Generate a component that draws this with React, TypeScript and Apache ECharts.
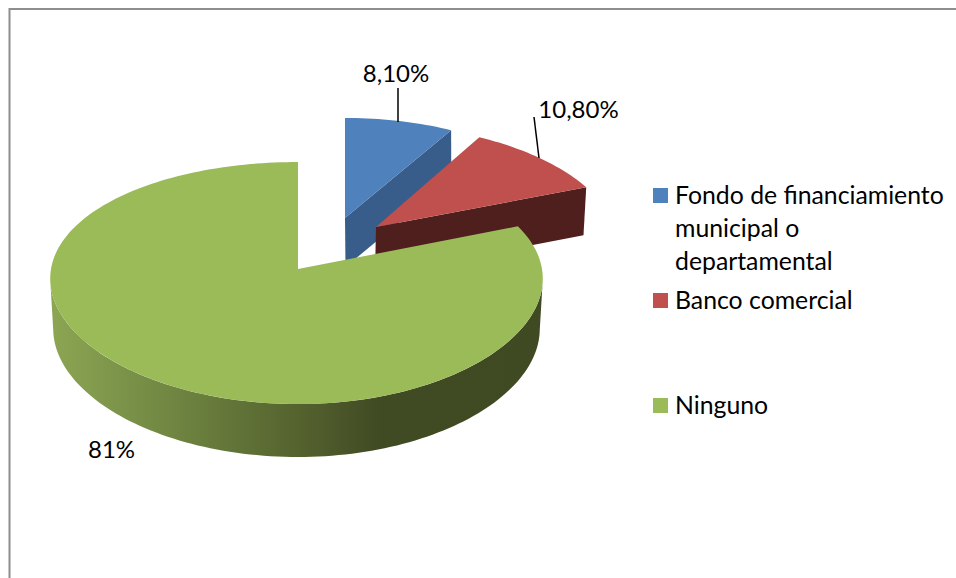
import React, { useEffect, useRef } from "react";
import * as echarts from "echarts";

const categories = ["Fondo de financiamiento\nmunicipal o\ndepartamental", "Banco comercial", "Ninguno"];
const sliceValues = [8.1, 10.8, 81];
const sliceLabels = ["8,10%", "10,80%", "81%"];
const topColors = ["#4F81BD", "#C0504D", "#9BBB59"];
const wallColors = ["#385D8A", "#4F1F1E", "#6A7D3B"];

const FONT = "Lato, 'Open Sans', sans-serif";
const LABEL_SIZE = 24;
const LEGEND_SIZE = 24.8;

// Layout only: each exploded slice's perspective ellipse (top face, bottom face)
const faces = [
  { top: { ax: 345, ay: 218, R: 226.7, Ry: 104.8, a: 0.048 }, bottom: { ax: 345.5, ay: 267, R: 226, Ry: 104.8, a: 0.048 }, wall: "radial" },
  { top: { ax: 376, ay: 227, R: 239, b: 0.147, Ry: 109.7, a: 0.076 }, bottom: { ax: 375, ay: 275, R: 237, b: 0.147, Ry: 109.7, a: 0.076 }, wall: "radial" },
  { top: { ax: 298, ay: 269, R: 244, Rl: 247, b: 0.08, Ry: 119.4, a: 0.116 }, bottom: { ax: 298, ay: 319, R: 241, Rl: 244, b: 0.08, Ry: 122, a: 0.116 }, wall: "arc" },
];
const labelAnchors = [
  { x: 396, y: 72 },
  { x: 578.5, y: 108 },
  { x: 111.5, y: 448 },
];
const leaders = [
  [398, 88, 398, 122],
  [534, 117, 539, 158],
];
const legendRows = [
  { swatchY: 188, textY: 194 },
  { swatchY: 293, textY: 299 },
  { swatchY: 398, textY: 404 },
];

const project = (f: any, deg: number) => {
  const t = (deg * Math.PI) / 180;
  const u = Math.sin(t);
  const v = Math.cos(t);
  const sy = 1 / (1 + f.a * v);
  const sx = 1 / (1 + (f.b ?? f.a) * v);
  const rx = u < 0 && f.Rl ? f.Rl : f.R;
  return [f.ax + rx * u * sx, f.ay - f.Ry * v * sy];
};

const arcPoints = (f: any, from: number, to: number) => {
  const pts: number[][] = [];
  const n = Math.max(2, Math.ceil(Math.abs(to - from) / 1.5));
  for (let i = 0; i <= n; i++) pts.push(project(f, from + ((to - from) * i) / n));
  return pts;
};

const total = sliceValues.reduce((a, b) => a + b, 0);

const renderItem = (params: any, api: any) => {
  const i = params.dataIndex;
  const value = api.value(0);
  let before = 0;
  for (let k = 0; k < i; k++) before += sliceValues[k];
  const start = (before / total) * 360;
  const end = start + (value / total) * 360;
  const f = faces[i];
  const children: any[] = [];

  if (f.wall === "radial") {
    children.push({
      type: "polygon",
      shape: {
        points: [[f.top.ax, f.top.ay], project(f.top, end), project(f.bottom, end), [f.bottom.ax, f.bottom.ay]],
      },
      style: { fill: wallColors[i] },
    });
  } else {
    const a0 = Math.max(start, 95);
    const a1 = Math.min(end, 265);
    const upper = arcPoints(f.top, a0, a1);
    const lower = arcPoints(f.bottom, a1, a0);
    children.push({
      type: "polygon",
      shape: { points: [...upper, ...lower] },
      style: {
        fill: new echarts.graphic.LinearGradient(1, 0, 0, 0, [
          { offset: 0, color: "#3F4922" },
          { offset: 0.33, color: "#404A23" },
          { offset: 0.5, color: "#55632F" },
          { offset: 0.6, color: "#5F7136" },
          { offset: 0.8, color: "#758C45" },
          { offset: 1, color: "#8CA653" },
        ]),
      },
    });
  }

  children.push({
    type: "polygon",
    shape: { points: [[f.top.ax, f.top.ay], ...arcPoints(f.top, start, end)] },
    style: { fill: topColors[i] },
  });

  return { type: "group", children };
};

export default function App() {
  const ref = useRef<HTMLDivElement>(null);
  useEffect(() => {
    if (!ref.current) return;
    const chart = echarts.init(ref.current, undefined, { renderer: "svg" });
    const graphic: any[] = [
      {
        type: "polyline",
        z: 1,
        shape: { points: [[9.5, 578], [9.5, 9], [956, 9]] },
        style: { stroke: "#8E8E8E", lineWidth: 2, fill: "none" },
      },
    ];
    leaders.forEach((l) =>
      graphic.push({
        type: "line",
        z: 20,
        shape: { x1: l[0], y1: l[1], x2: l[2], y2: l[3] },
        style: { stroke: "#000000", lineWidth: 1.5 },
      })
    );
    sliceLabels.forEach((text, i) =>
      graphic.push({
        type: "text",
        z: 20,
        x: labelAnchors[i].x,
        y: labelAnchors[i].y,
        style: { text, fill: "#000000", font: `${LABEL_SIZE}px ${FONT}`, align: "center", verticalAlign: "middle" },
      })
    );
    categories.forEach((text, i) => {
      graphic.push({
        type: "rect",
        z: 20,
        shape: { x: 653, y: legendRows[i].swatchY, width: 15, height: 15 },
        style: { fill: topColors[i] },
      });
      graphic.push({
        type: "text",
        z: 20,
        x: 675,
        y: legendRows[i].textY - 16.5,
        style: { text, fill: "#000000", font: `${LEGEND_SIZE}px ${FONT}`, lineHeight: 33, align: "left", verticalAlign: "top" },
      });
    });
    chart.setOption({
      animation: false,
      backgroundColor: "#FFFFFF",
      graphic,
      series: [
        {
          type: "custom",
          coordinateSystem: "none",
          renderItem,
          data: sliceValues.map((v, i) => ({ name: categories[i], value: [v] })),
          z: 5,
          silent: true,
        },
      ],
    });
    return () => chart.dispose();
  }, []);
  return <div ref={ref} style={{ position: "absolute", left: 0, top: 0, width: 956, height: 578 }} />;
}
